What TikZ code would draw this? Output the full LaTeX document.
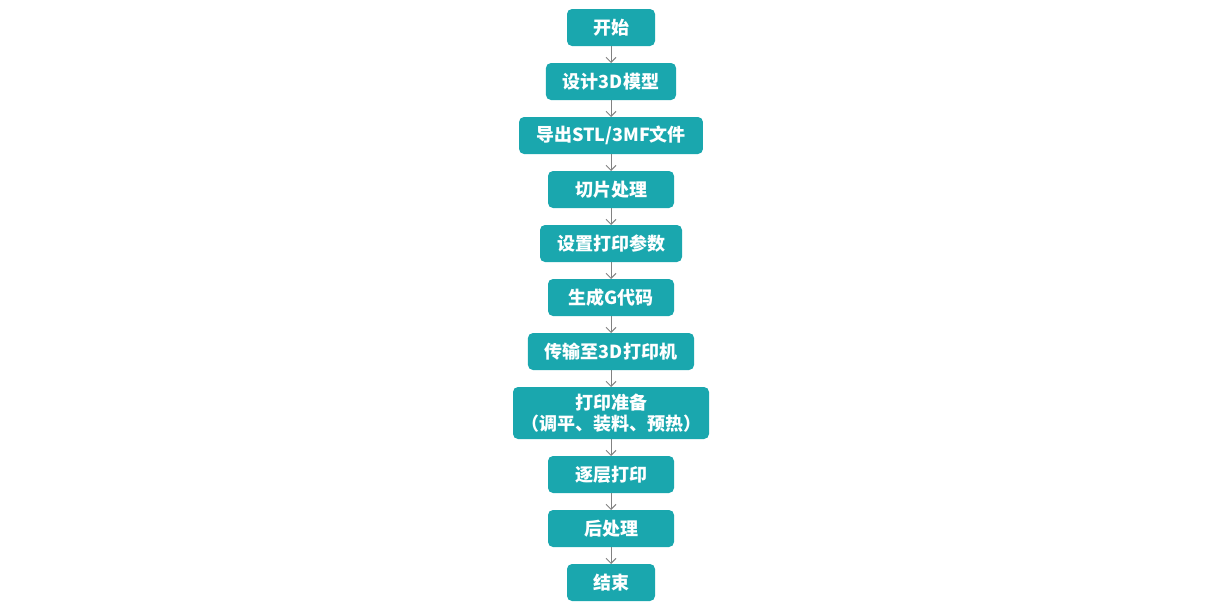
\documentclass[tikz,border=0pt]{standalone}
\usepackage{fontspec}
\newfontfamily\cjk{Noto Sans CJK SC}
\usetikzlibrary{arrows.meta,positioning}
\definecolor{boxteal}{RGB}{26,167,174}
\definecolor{arrowgray}{RGB}{130,130,130}

\begin{document}
\begin{tikzpicture}[x=1pt,y=1pt,font=\cjk\bfseries\fontsize{18}{21}\selectfont,
    node distance=17pt,
    line/.style={draw, -{Straight Barb[length=5pt,width=10pt]}, color=arrowgray, line width=1pt},
    process/.style={fill=boxteal, text=white, rounded corners=5pt, outer sep=0pt, minimum width=126pt, minimum height=37pt, inner xsep=17pt, inner ysep=6pt, align=center},
    terminal/.style={process, minimum width=88pt},
    ]
    \useasboundingbox (0,0) rectangle (1227,-613);
    % Place nodes
    \node [terminal] (start) at (611,-27.5) {开始};
    \node [process, below=of start] (design) {设计3D模型};
    \node [process, below=of design] (export) {导出STL/3MF文件};
    \node [process, below=of export] (slice) {切片处理};
    \node [process, below=of slice] (params) {设置打印参数};
    \node [process, below=of params] (gcode) {生成G代码};
    \node [process, below=of gcode] (send) {传输至3D打印机};
    \node [process, inner xsep=8pt, inner ysep=4pt, minimum height=52pt, below=of send] (prep) {打印准备\\（调平、装料、预热）};
    \node [process, below=of prep] (layers) {逐层打印};
    \node [process, below=of layers] (post) {后处理};
    \node [terminal, below=of post] (stop) {结束};

    % Draw edges
    \path [line] (start) -- (design);
    \path [line] (design) -- (export);
    \path [line] (export) -- (slice);
    \path [line] (slice) -- (params);
    \path [line] (params) -- (gcode);
    \path [line] (gcode) -- (send);
    \path [line] (send) -- (prep);
    \path [line] (prep) -- (layers);
    \path [line] (layers) -- (post);
    \path [line] (post) -- (stop);
  \end{tikzpicture}
\end{document}
